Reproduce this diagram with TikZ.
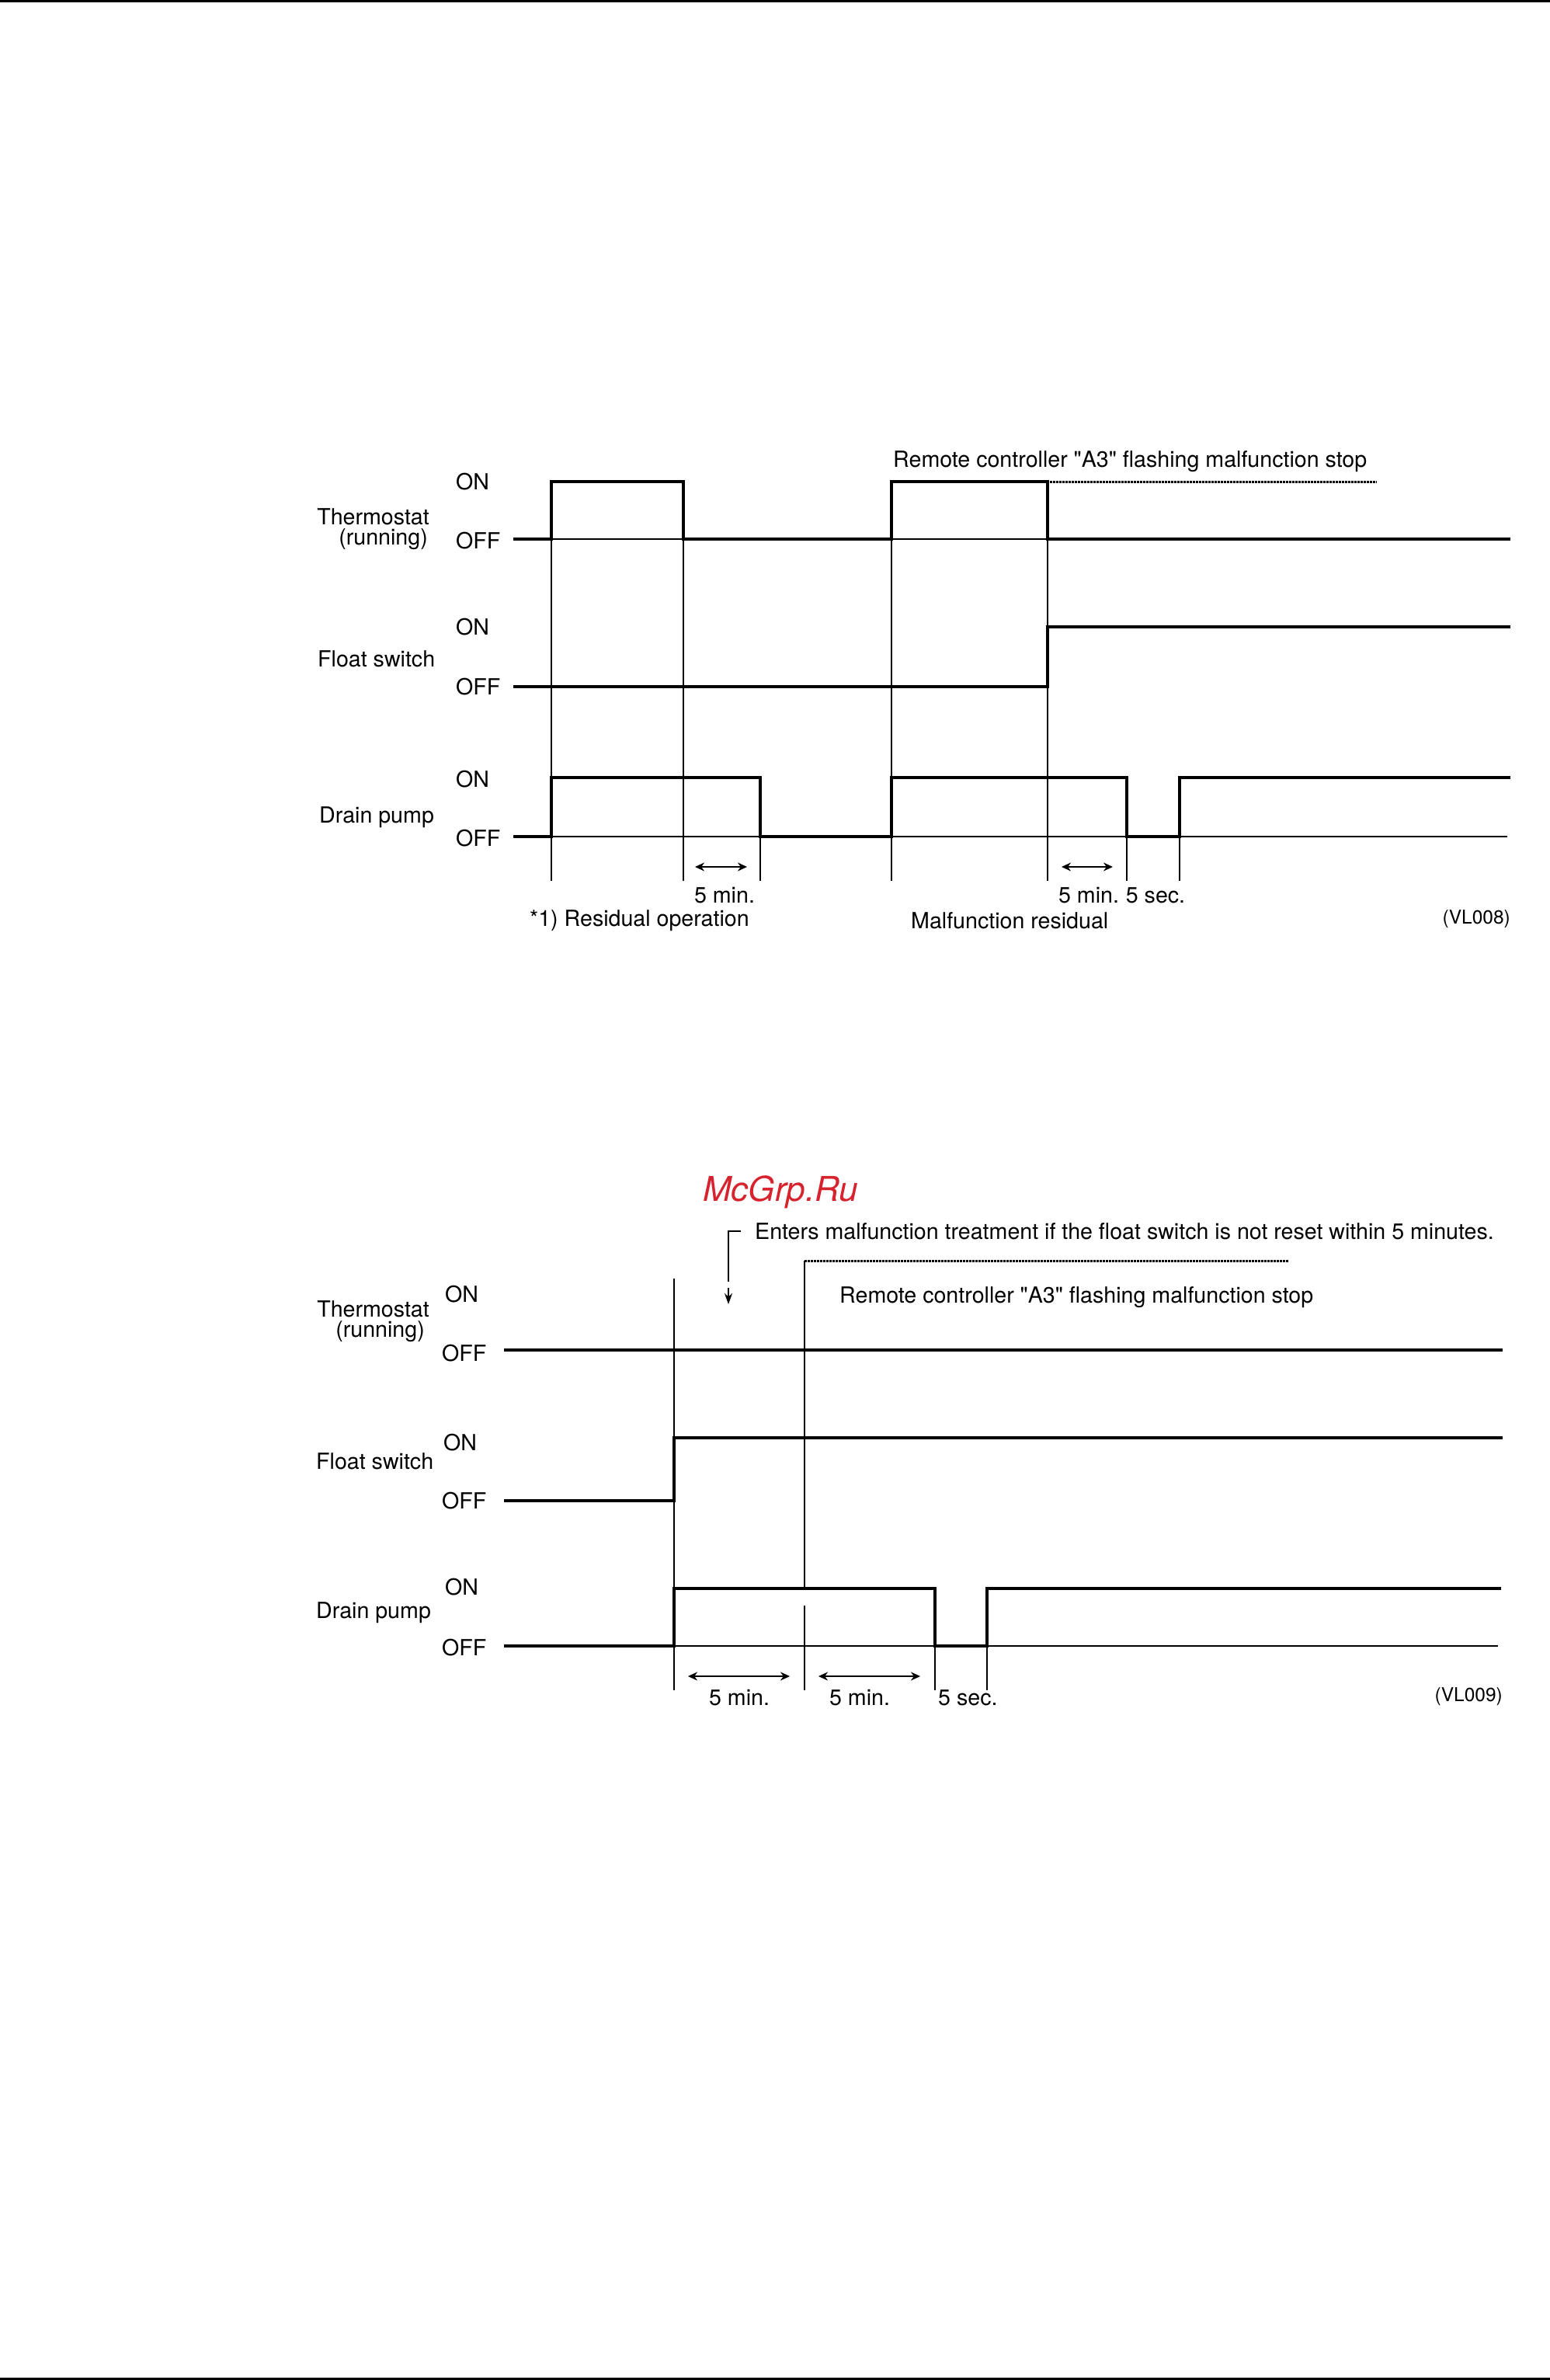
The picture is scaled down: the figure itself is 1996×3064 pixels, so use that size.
\documentclass[tikz,border=0pt]{standalone}
\usepackage{fontspec}
\setmainfont{TeX Gyre Heros}[Ligatures=TeXOff]
\usetikzlibrary{arrows.meta}
\begin{document}
\begin{tikzpicture}[x=1pt,y=-1pt,
  sigline/.style={line width=4.5pt, line join=miter, line cap=butt},
  guide/.style={line width=2pt},
  dotline/.style={line width=3pt, dash pattern=on 2.5pt off 1.5pt},
  dimarrow/.style={line width=2.2pt, {Stealth[length=12pt,width=11pt]}-{Stealth[length=12pt,width=11pt]}},
  txt/.style={font=\fontsize{28.6}{34}\selectfont, inner sep=0pt},
  small/.style={font=\fontsize{24.5}{29}\selectfont, inner sep=0pt}
]
\useasboundingbox (0,0) rectangle (1996,3064);
% page rules
\draw[line width=3pt] (0,1.5) -- (1996,1.5);
\draw[line width=3pt] (0,3062) -- (1996,3062);

% ================= Diagram 1 =================
% guide lines
\foreach \x in {710,880,1148,1349} \draw[guide] (\x,620) -- (\x,1134);
\foreach \x in {979,1451,1519} \draw[guide] (\x,1001) -- (\x,1134);
\draw[guide] (710,694) -- (880,694);
\draw[guide] (1148,694) -- (1349,694);
\draw[guide] (710,1077) -- (1941,1077);
% thermostat
\draw[sigline] (661,694) -- (710,694) -- (710,620) -- (880,620) -- (880,694) -- (1148,694) -- (1148,620) -- (1349,620) -- (1349,694) -- (1945,694);
\draw[dotline] (1352,620) -- (1773,620);
% float switch
\draw[sigline] (661,884) -- (1349,884) -- (1349,807) -- (1945,807);
% drain pump
\draw[sigline] (661,1077) -- (710,1077) -- (710,1001) -- (979,1001) -- (979,1077) -- (1148,1077) -- (1148,1001) -- (1451,1001) -- (1451,1077) -- (1519,1077) -- (1519,1001) -- (1945,1001);
% dimension arrows
\draw[dimarrow] (895,1116) -- (962,1116);
\draw[dimarrow] (1367,1116) -- (1433,1116);
% labels
\node[txt, anchor=east] (t1a) at (553,665) {Thermostat};
\node[txt, anchor=east] (t1b) at (551,694) {(running)};
\node[txt, anchor=west] (t1on) at (587,620) {ON};
\node[txt, anchor=west] (t1off) at (587,696) {OFF};
\node[txt, anchor=west] (f1) at (409,848) {Float switch};
\node[txt, anchor=west] (f1on) at (587,807) {ON};
\node[txt, anchor=west] (f1off) at (587,884) {OFF};
\node[txt, anchor=west] (d1) at (411,1052) {Drain pump};
\node[txt, anchor=west] (d1on) at (587,1003) {ON};
\node[txt, anchor=west] (d1off) at (587,1079) {OFF};
\node[txt, anchor=west] (r1) at (1150,594) {Remote controller "A3" flashing malfunction stop};
\node[txt] (m1) at (933,1153) {5 min.};
\node[txt] (m2) at (1402,1153) {5 min.};
\node[txt] (s1) at (1488,1153) {5 sec.};
\node[txt, anchor=west] (res) at (682,1185) {*1) Residual operation};
\node[txt, anchor=west] (mal) at (1173,1185) {Malfunction residual};
\node[small, anchor=east] (vl8) at (1945,1183) {(VL008)};

% ================= Diagram 2 =================
\definecolor{wmred}{RGB}{215,35,45}
\node[inner sep=0pt, anchor=west, text=wmred, font=\fontsize{44}{50}\selectfont\itshape] (wm) at (905,1535) {McGrp.Ru};
% guides
\draw[guide] (868,1646) -- (868,2176);
\draw[guide] (1036,1623) -- (1036,2045);
\draw[guide] (1036,2067) -- (1036,2176);
\draw[guide] (1204,2045) -- (1204,2176);
\draw[guide] (1271,2045) -- (1271,2176);
\draw[guide] (868,2119) -- (1929,2119);
\draw[dotline] (1036,1623) -- (1660,1623);
% bracket arrow
\draw[guide] (954,1585) -- (938,1585) -- (938,1650);
\draw[guide, -{Stealth[length=14pt,width=10pt]}] (938,1658) -- (938,1679);
% thermostat
\draw[sigline] (649,1738) -- (1935,1738);
% float switch
\draw[sigline] (649,1932) -- (868,1932) -- (868,1851) -- (1935,1851);
% drain pump
\draw[sigline] (649,2119) -- (868,2119) -- (868,2045) -- (1204,2045) -- (1204,2119) -- (1271,2119) -- (1271,2045) -- (1933,2045);
% dimension arrows
\draw[dimarrow] (886,2158) -- (1017,2158);
\draw[dimarrow] (1054,2158) -- (1185,2158);
% labels
\node[txt, anchor=east] (t2a) at (553,1685) {Thermostat};
\node[txt, anchor=east] (t2b) at (547,1714) {(running)};
\node[txt, anchor=west] (t2on) at (573,1666) {ON};
\node[txt, anchor=west] (t2off) at (569,1742) {OFF};
\node[txt, anchor=west] (f2) at (407,1881) {Float switch};
\node[txt, anchor=west] (f2on) at (571,1857) {ON};
\node[txt, anchor=west] (f2off) at (569,1932) {OFF};
\node[txt, anchor=west] (d2) at (407,2076) {Drain pump};
\node[txt, anchor=west] (d2on) at (573,2043) {ON};
\node[txt, anchor=west] (d2off) at (569,2121) {OFF};
\node[txt, anchor=west] (ent) at (972,1585) {Enters malfunction treatment if the float switch is not reset within 5 minutes.};
\node[txt, anchor=west] (r2) at (1081,1670) {Remote controller "A3" flashing malfunction stop};
\node[txt] (m3) at (952,2186) {5 min.};
\node[txt] (m4) at (1107,2186) {5 min.};
\node[txt, anchor=west] (s2) at (1208,2186) {5 sec.};
\node[small, anchor=east] (vl9) at (1935,2184) {(VL009)};
\end{tikzpicture}
\end{document}
